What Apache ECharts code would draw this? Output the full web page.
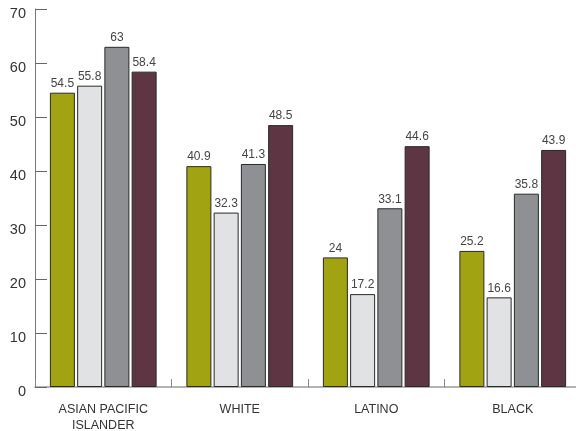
<!DOCTYPE html>
<html lang="en">
<head>
    <meta charset="UTF-8">
    <title>group bars</title>
    <script type="text/javascript" src="https://cdn.jsdelivr.net/npm/echarts@6/dist/echarts.min.js"></script>
</head>
<body style="margin:0">
    <div id="main" style="width: 576px;height:431px;"></div>
    <script type="text/javascript">
    let categories = ['ASIAN PACIFIC\nISLANDER', 'WHITE', 'LATINO', 'BLACK'];
    let seriesA = [54.5, 40.9, 24, 25.2];
    let seriesB = [55.8, 32.3, 17.2, 16.6];
    let seriesC = [63, 41.3, 33.1, 35.8];
    let seriesD = [58.4, 48.5, 44.6, 43.9];
    let colors = ['#a2a312', '#e1e2e4', '#8f9094', '#5e3542'];

    let myChart = echarts.init(document.getElementById('main'));

    function bar(data, i) {
        return {
            type: 'bar',
            data: data,
            barWidth: 25,
            barGap: '9%',
            itemStyle: { color: colors[i], borderColor: '#2a2a2a', borderWidth: 1 },
            label: {
                show: true,
                position: 'top',
                distance: 3,
                color: '#444',
                fontSize: 12,
                fontFamily: 'Liberation Sans'
            }
        };
    }

    let option = {
        animation: false,
        grid: { left: 35, top: 9, width: 546, height: 378, containLabel: false, outerBoundsMode: 'none' },
        xAxis: {
            type: 'category',
            data: categories,
            axisLine: { lineStyle: { color: '#999', width: 1.5 } },
            axisTick: { show: true, inside: true, length: 8, lineStyle: { color: '#888', width: 1 } },
            axisLabel: {
                color: '#333',
                fontSize: 12.5,
                fontFamily: 'Liberation Sans',
                margin: 15,
                lineHeight: 16
            }
        },
        yAxis: {
            type: 'value',
            min: 0,
            max: 70,
            interval: 10,
            splitLine: { show: false },
            axisLine: { show: true, lineStyle: { color: '#777' } },
            axisTick: { show: true, inside: true, length: 12, lineStyle: { color: '#666', width: 1 } },
            axisLabel: {
                color: '#333',
                fontSize: 14.5,
                fontFamily: 'Liberation Sans',
                margin: 9,
                verticalAlign: 'top',
                lineHeight: 10
            }
        },
        series: [bar(seriesA, 0), bar(seriesB, 1), bar(seriesC, 2), bar(seriesD, 3)]
    };

    myChart.setOption(option);
    </script>
</body>
</html>
